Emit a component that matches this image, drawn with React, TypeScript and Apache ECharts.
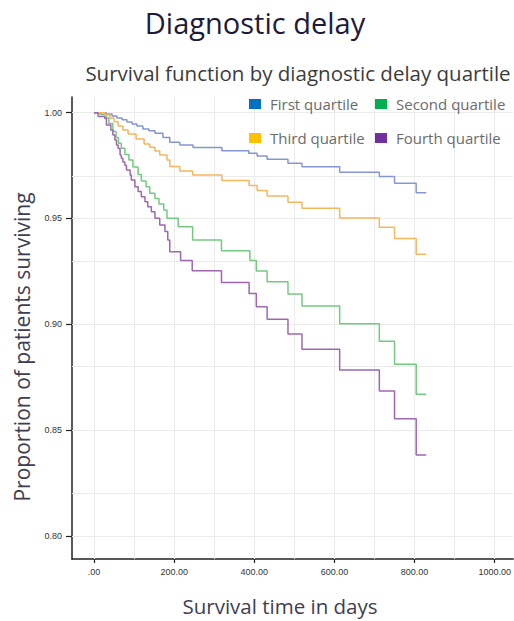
import React, { useEffect, useRef } from "react";
import * as echarts from "echarts";

// ---- data ----
const seriesNames = ["First quartile", "Second quartile", "Third quartile", "Fourth quartile"];
const legendColors = ["#0070C0", "#00B050", "#FFC000", "#7030A0"];
const lineColors = ["#8596d2", "#74c982", "#f5b75e", "#9e68ae"];

const firstDays = [0, 30, 45, 57, 70, 82, 95, 107, 122, 137, 152, 172, 189, 214, 247, 319, 386, 407, 432, 484, 519, 613, 712, 750, 804, 829];
const firstSurv = [1, 0.9994, 0.9984, 0.9975, 0.9966, 0.9956, 0.9947, 0.9937, 0.9923, 0.9914, 0.9903, 0.9883, 0.986, 0.9847, 0.9835, 0.982, 0.9808, 0.9795, 0.978, 0.9761, 0.9745, 0.9718, 0.9698, 0.9666, 0.9622, 0.9622];

const secondDays = [0, 15, 30, 37, 47, 55, 61, 68, 77, 87, 97, 110, 118, 130, 139, 152, 162, 174, 182, 210, 246, 318, 389, 405, 432, 484, 519, 613, 712, 750, 804, 829];
const secondSurv = [1, 0.9991, 0.9975, 0.9949, 0.9911, 0.9883, 0.9855, 0.9832, 0.9802, 0.9776, 0.9743, 0.9708, 0.9677, 0.965, 0.9619, 0.9594, 0.9569, 0.954, 0.9501, 0.9461, 0.9398, 0.9348, 0.9301, 0.9252, 0.9201, 0.9143, 0.9086, 0.9003, 0.892, 0.8811, 0.8669, 0.8669];

const thirdDays = [0, 27, 40, 50, 60, 72, 85, 105, 125, 139, 152, 164, 182, 189, 214, 246, 319, 387, 407, 432, 484, 519, 613, 712, 750, 804, 829];
const thirdSurv = [1, 0.9989, 0.9975, 0.9957, 0.9937, 0.9918, 0.9899, 0.9876, 0.9852, 0.9836, 0.9819, 0.98, 0.9776, 0.9746, 0.9724, 0.9706, 0.968, 0.9656, 0.9632, 0.9606, 0.9577, 0.9548, 0.9502, 0.9458, 0.9405, 0.9331, 0.9331];

const fourthDays = [0, 10, 27, 31, 42, 47, 52, 56, 60, 65, 68, 72, 77, 81, 90, 93, 102, 110, 118, 127, 134, 143, 152, 164, 177, 184, 189, 216, 245, 318, 387, 405, 432, 484, 519, 613, 712, 750, 804, 829];
const fourthSurv = [1, 0.9982, 0.9973, 0.9942, 0.9918, 0.9895, 0.9871, 0.9847, 0.9831, 0.98, 0.9784, 0.9767, 0.975, 0.9729, 0.9706, 0.9682, 0.965, 0.9627, 0.9603, 0.9579, 0.9556, 0.9532, 0.9501, 0.9469, 0.9438, 0.9398, 0.9343, 0.9301, 0.9253, 0.9198, 0.9146, 0.9083, 0.9024, 0.8954, 0.8882, 0.8784, 0.8685, 0.8554, 0.8382, 0.8382];

const xTickValues = [0, 200, 400, 600, 800, 1000];
const yTickValues = [0.8, 0.85, 0.9, 0.95, 1.0];
const xGridValues = [0, 100, 200, 300, 400, 500, 600, 700, 800, 900, 1000];
const yGridValues = [0.8, 0.825, 0.85, 0.875, 0.9, 0.925, 0.95, 0.975, 1.0];

const FONT = "'Open Sans', sans-serif";

function zip(a: number[], b: number[]) {
  return a.map((d, i) => [d, b[i]]);
}

export default function App() {
  const ref = useRef<HTMLDivElement>(null);
  useEffect(() => {
    if (!ref.current) return;
    const chart = echarts.init(ref.current, null, { renderer: "svg" });
    const curves = [
      zip(firstDays, firstSurv),
      zip(secondDays, secondSurv),
      zip(thirdDays, thirdSurv),
      zip(fourthDays, fourthSurv),
    ];
    const gridLine = { color: "#ebebeb", width: 1, type: "solid" as const };
    const legendText = { color: "#6b6b6b", fontSize: 15, fontFamily: FONT, lineHeight: 16, padding: [0, 0, 0, 4] };
    const option: any = {
      animation: false,
      backgroundColor: "#ffffff",
      grid: { left: 72, right: 0, top: 97, bottom: 62, containLabel: false },
      xAxis: {
        type: "value",
        min: -55,
        max: 1046,
        axisLine: { show: true, onZero: false, lineStyle: { color: "#222", width: 1.5 } },
        axisTick: { show: true, length: 4, customValues: xTickValues, lineStyle: { color: "#222", width: 1.2 } },
        axisLabel: {
          customValues: xTickValues,
          margin: 8,
          color: "#333",
          fontSize: 9,
          fontFamily: "'Liberation Sans', Arial, sans-serif",
          formatter: (v: number) => (v === 0 ? ".00" : v.toFixed(2)),
        },
        splitLine: { show: false },
      },
      yAxis: {
        type: "value",
        min: 0.7891,
        max: 1.0074,
        axisLine: { show: true, onZero: false, lineStyle: { color: "#222", width: 1.5 } },
        axisTick: { show: true, length: 6, customValues: yTickValues, lineStyle: { color: "#222", width: 1.2 } },
        axisLabel: {
          customValues: yTickValues,
          margin: 10,
          color: "#333",
          fontSize: 9,
          fontFamily: "'Liberation Sans', Arial, sans-serif",
          formatter: (v: number) => v.toFixed(2),
        },
        splitLine: { show: false },
      },
      legend: [
        {
          left: 244,
          top: 91,
          orient: "vertical",
          itemWidth: 12,
          itemHeight: 10,
          itemGap: 18,
          icon: "rect",
          textStyle: legendText,
          data: [
            { name: seriesNames[0], itemStyle: { color: legendColors[0] } },
            { name: seriesNames[2], itemStyle: { color: legendColors[2] } },
          ],
        },
        {
          left: 370,
          top: 91,
          orient: "vertical",
          itemWidth: 12,
          itemHeight: 10,
          itemGap: 18,
          icon: "rect",
          textStyle: legendText,
          data: [
            { name: seriesNames[1], itemStyle: { color: legendColors[1] } },
            { name: seriesNames[3], itemStyle: { color: legendColors[3] } },
          ],
        },
      ],
      graphic: [
        {
          type: "text",
          x: 255,
          y: 22,
          style: {
            text: "Diagnostic delay",
            fill: "#1e1b3a",
            font: `29px ${FONT}`,
            textAlign: "center",
            textVerticalAlign: "middle",
          },
        },
        {
          type: "text",
          x: 298,
          y: 73,
          style: {
            text: "Survival function by diagnostic delay quartile",
            fill: "#3c3c3c",
            font: `20.5px ${FONT}`,
            textAlign: "center",
            textVerticalAlign: "middle",
          },
        },
        {
          type: "text",
          x: 22,
          y: 347,
          rotation: Math.PI / 2,
          style: {
            text: "Proportion of patients surviving",
            fill: "#3e3e50",
            font: `21px ${FONT}`,
            textAlign: "center",
            textVerticalAlign: "middle",
          },
        },
        {
          type: "text",
          x: 280,
          y: 606,
          style: {
            text: "Survival time in days",
            fill: "#3e3e50",
            font: `20.5px ${FONT}`,
            textAlign: "center",
            textVerticalAlign: "middle",
          },
        },
      ],
      series: [
        {
          type: "line",
          name: "__grid",
          data: [],
          silent: true,
          z: 1,
          markLine: {
            silent: true,
            z: 1,
            symbol: "none",
            label: { show: false },
            lineStyle: gridLine,
            data: [
              ...xGridValues.map((v) => ({ xAxis: v })),
              ...yGridValues.map((v) => ({ yAxis: v })),
            ],
          },
        },
        ...curves.map((d, i) => ({
          type: "line",
          name: seriesNames[i],
          data: d,
          step: "end",
          showSymbol: false,
          symbol: "none",
          z: 3,
          color: lineColors[i],
          lineStyle: { color: lineColors[i], width: 1.5 },
        })),
      ],
    };
    chart.setOption(option);
    return () => chart.dispose();
  }, []);
  return <div ref={ref} style={{ position: "absolute", left: 0, top: 0, width: 514, height: 621 }} />;
}
